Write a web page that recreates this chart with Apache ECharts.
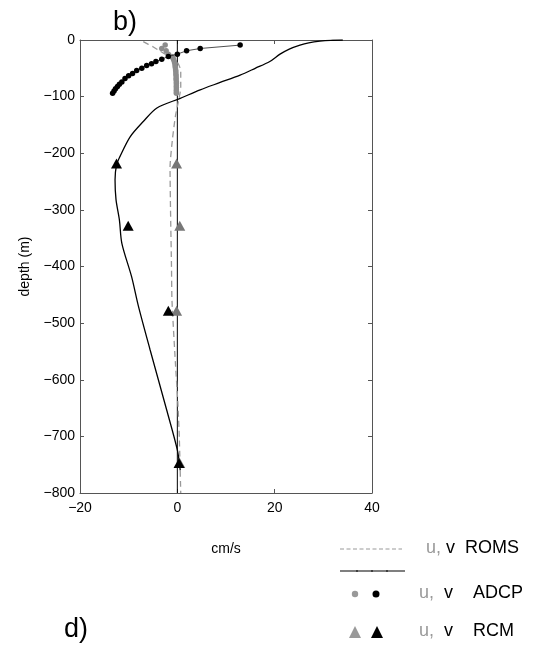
<!DOCTYPE html>
<html>
<head>
<meta charset="utf-8">
<script src="https://cdn.jsdelivr.net/npm/echarts@6/dist/echarts.min.js"></script>
<style>
html,body{margin:0;padding:0;background:#fff;}
#chart{width:545px;height:647px;}
</style>
</head>
<body>
<div id="chart"></div>
<script>
// ---- data (velocity in cm/s, depth in m) ----
const vRomsVel   = [34, 31.5, 29.3, 27, 25.2, 23, 21.1, 19.0, 16, 12.9, 8.8, 4.7, 0.6, -4.2, -7.0, -9.7, -11.8, -12.5, -12.8, -12.6, -11.9, -11.4, -9.4, -8.0, -5.6, -2.2, 0, 0.6];
const vRomsDepth = [0, -0.5, -2, -5, -9, -16, -25, -38, -50, -62, -75, -88, -103, -120, -144, -171, -206, -221, -247, -282, -318, -359, -418, -470, -547, -653, -724, -760];

const uRomsVel   = [-7, -5, -3.5, -1.5, 0.2, 0.7, 0.7, 0.3, -0.4, -1.0, -1.5, -1.4, -1.2, -1.1, -0.4, 0.1, 0.4, 0.7];
const uRomsDepth = [-3, -12, -20, -30, -42, -55, -85, -105, -135, -175, -225, -300, -400, -460, -570, -640, -700, -800];

const adcpVVel   = [12.9, 4.7, 1.9, 0, -1.85, -3.2, -4.4, -5.3, -6.3, -7.3, -8.35, -9.2, -10, -10.75, -11.4, -11.9, -12.3, -12.7, -13.0, -13.3];
const adcpVDepth = [-9, -15, -19, -25, -29, -34, -38, -42, -45, -50, -54, -59, -63, -68, -74, -78, -82, -86, -90, -94];

const adcpUVel   = [-2.5, -3.2, -2.3, -1.85, -1.15, -0.9, -0.75, -0.6, -0.5, -0.45, -0.4, -0.35, -0.3, -0.3, -0.25, -0.25, -0.25, -0.2, -0.2, -0.2, -0.2, -0.2, -0.2, -0.2];
const adcpUDepth = [-9, -15, -19, -25, -29, -32, -35, -39, -42, -46, -49, -53, -56, -60, -63, -67, -70, -74, -77, -81, -84, -88, -91, -94];

const rcmVVel   = [-12.5, -10.1, -1.85, 0.35];
const rcmUVel   = [-0.15, 0.5, -0.15, 0.5];
const rcmDepth  = [-218, -328, -478, -747];

const zeroVel   = [0, 0];
const zeroDepth = [0, -800];

const xTicks = [-20, 0, 20, 40];
const yTicks = [0, -100, -200, -300, -400, -500, -600, -700, -800];

const pairs = (xs, ys) => xs.map((x, i) => [x, ys[i]]);
const FONT = 'Liberation Sans, Arial, Helvetica, sans-serif';
const minus = v => String(v).replace('-', '\u2212');
const AX = '#555';
const GRAY = '#8c8c8c';

const chart = echarts.init(document.getElementById('chart'), null, {renderer: 'canvas'});
const tickCommon = {show: true, inside: true, length: 4, lineStyle: {color: AX}};
chart.setOption({
  animation: false,
  backgroundColor: '#fff',
  grid: {left: 80, right: 173, top: 40, bottom: 154, containLabel: false},
  xAxis: [
    {type: 'value', min: xTicks[0], max: xTicks[xTicks.length - 1], interval: 20, position: 'bottom',
     axisLine: {show: true, onZero: false, lineStyle: {color: AX, width: 1}},
     axisTick: tickCommon, splitLine: {show: false},
     axisLabel: {fontSize: 14, color: '#000', fontFamily: FONT, margin: 8, formatter: v => minus(v)},
     name: 'cm/s', nameLocation: 'middle', nameGap: 49,
     nameTextStyle: {fontSize: 14, color: '#000', fontFamily: FONT}},
    {type: 'value', min: xTicks[0], max: xTicks[xTicks.length - 1], interval: 20, position: 'top',
     axisLine: {show: true, onZero: false, lineStyle: {color: AX, width: 1}},
     axisTick: tickCommon, axisLabel: {show: false}, splitLine: {show: false}}
  ],
  yAxis: [
    {type: 'value', min: yTicks[yTicks.length - 1], max: yTicks[0], interval: 100, position: 'left',
     axisLine: {show: true, onZero: false, lineStyle: {color: AX, width: 1}},
     axisTick: tickCommon, splitLine: {show: false},
     axisLabel: {fontSize: 14, color: '#000', fontFamily: FONT, margin: 5, formatter: v => minus(v)},
     name: 'depth (m)', nameLocation: 'middle', nameGap: 47, nameRotate: 90,
     nameTextStyle: {fontSize: 14, color: '#000', fontFamily: FONT}},
    {type: 'value', min: yTicks[yTicks.length - 1], max: yTicks[0], interval: 100, position: 'right',
     axisLine: {show: true, onZero: false, lineStyle: {color: AX, width: 1}},
     axisTick: tickCommon, axisLabel: {show: false}, splitLine: {show: false}}
  ],
  series: [
    {name: 'zero', type: 'line', data: pairs(zeroVel, zeroDepth), symbol: 'none',
     lineStyle: {color: '#000', width: 1}, z: 1},
    {name: 'u ROMS', type: 'line', data: pairs(uRomsVel, uRomsDepth), symbol: 'none', smooth: 0.2,
     lineStyle: {color: '#999', width: 1.3, type: [6, 4]}, z: 2},
    {name: 'v ROMS', type: 'line', data: pairs(vRomsVel, vRomsDepth), symbol: 'none', smooth: 0.3,
     lineStyle: {color: '#000', width: 1.3}, z: 3},
    {name: 'u ADCP', type: 'scatter', data: pairs(adcpUVel, adcpUDepth), symbol: 'circle', symbolSize: 5.5,
     itemStyle: {color: GRAY, opacity: 1}, z: 4},
    {name: 'v ADCP', type: 'line', data: pairs(adcpVVel, adcpVDepth), symbol: 'circle', symbolSize: 5.5,
     showSymbol: true, lineStyle: {color: '#222', width: 0.8}, itemStyle: {color: '#000', borderWidth: 0, opacity: 1}, z: 5},
    {name: 'u RCM', type: 'scatter', data: pairs(rcmUVel, rcmDepth), symbol: 'triangle', symbolSize: [11, 10],
     itemStyle: {color: '#777', opacity: 1}, z: 6},
    {name: 'v RCM', type: 'scatter', data: pairs(rcmVVel, rcmDepth), symbol: 'triangle', symbolSize: [11, 10],
     itemStyle: {color: '#000', opacity: 1}, z: 7}
  ],
  graphic: [
    {type: 'text', left: 113, top: 9, style: {text: 'b)', font: '27px ' + FONT, fill: '#000'}},
    {type: 'text', left: 64, top: 616, style: {text: 'd)', font: '27px ' + FONT, fill: '#000'}},
    // legend
    {type: 'line', shape: {x1: 340, y1: 549, x2: 402, y2: 549}, style: {stroke: '#999', lineWidth: 1, lineDash: [4, 2.5]}},
    {type: 'line', shape: {x1: 340, y1: 571, x2: 405, y2: 571}, style: {stroke: '#000', lineWidth: 1.2}},
    {type: 'line', shape: {x1: 357, y1: 570, x2: 357, y2: 572}, style: {stroke: '#000', lineWidth: 1}},
    {type: 'line', shape: {x1: 372, y1: 570, x2: 372, y2: 572}, style: {stroke: '#000', lineWidth: 1}},
    {type: 'line', shape: {x1: 387, y1: 570, x2: 387, y2: 572}, style: {stroke: '#000', lineWidth: 1}},
    {type: 'circle', shape: {cx: 355, cy: 594, r: 3.2}, style: {fill: '#999'}},
    {type: 'circle', shape: {cx: 376, cy: 594, r: 3.5}, style: {fill: '#000'}},
    {type: 'polygon', shape: {points: [[355, 626], [349, 638], [361, 638]]}, style: {fill: '#999'}},
    {type: 'polygon', shape: {points: [[377, 626], [371, 638], [383, 638]]}, style: {fill: '#000'}},
    {type: 'text', left: 426, top: 539, style: {text: '{g|u,} {k|v}  {k|ROMS}', rich: {
      g: {fill: '#999', font: '18px ' + FONT}, k: {fill: '#000', font: '18px ' + FONT}}, font: '18px ' + FONT}},
    {type: 'text', left: 419, top: 584, style: {text: '{g|u,}  {k|v}    {k|ADCP}', rich: {
      g: {fill: '#999', font: '18px ' + FONT}, k: {fill: '#000', font: '18px ' + FONT}}, font: '18px ' + FONT}},
    {type: 'text', left: 419, top: 622, style: {text: '{g|u,}  {k|v}    {k|RCM}', rich: {
      g: {fill: '#999', font: '18px ' + FONT}, k: {fill: '#000', font: '18px ' + FONT}}, font: '18px ' + FONT}}
  ]
});
</script>
</body>
</html>
